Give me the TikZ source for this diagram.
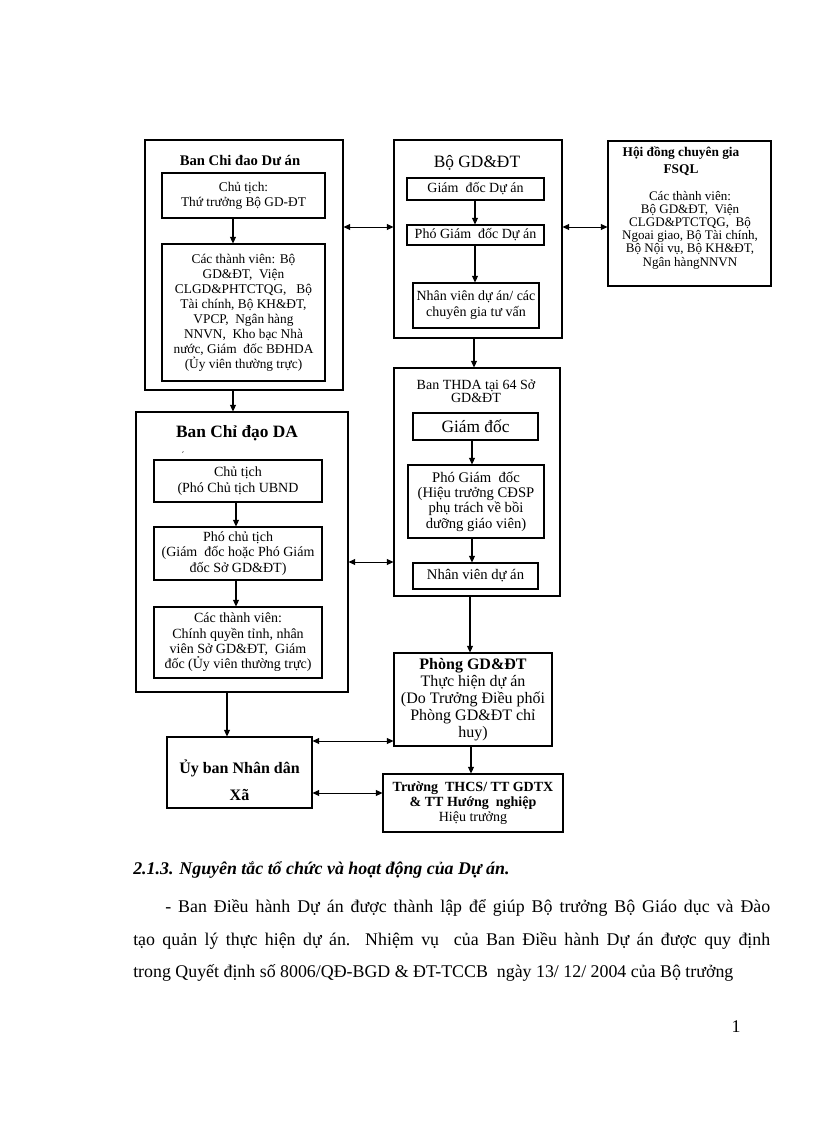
\documentclass[tikz,border=0pt]{standalone}
\usepackage{fontspec}
\setmainfont{Liberation Serif}
\usetikzlibrary{arrows.meta}
\newcommand\bx[7]{\node[#1, minimum width={(#5-#3)*0.75pt}, minimum height={(#6-#4)*0.75pt}] (#2) at ({(#3+#5)/2},{(#4+#6)/2}) {#7};}
\newcommand\fs[2]{\fontsize{#1}{#2}\selectfont}
\begin{document}
\begin{tikzpicture}[x=0.75pt,y=-0.75pt,
  box/.style={draw, line width=0.8pt, inner sep=0pt, align=center, font=\fs{10}{11.25}},
  outer/.style={draw, line width=0.8pt, inner sep=0pt},
  txt/.style={inner sep=0pt, align=center},
  body/.style={anchor=base west, inner sep=0pt, font=\fs{13.4}{15}},
  arr/.style={line width=0.8pt, -{Triangle[length=5pt,width=4.5pt]}},
  dbl/.style={line width=0.6pt, {Triangle[length=5pt,width=4.5pt]}-{Triangle[length=5pt,width=4.5pt]}},
]
\useasboundingbox[fill=white] (0,0) rectangle (816,1123);

% ---- Ban Chi dao Du an
\bx{outer}{A}{145}{140}{343}{390}{}
\node[txt, font=\bfseries\fs{11}{13}] (At) at (240,160) {Ban Chi đao Dư án};
\bx{box}{A1}{162}{173}{325}{218}{Chủ tịch:\\Thứ trưởng Bộ GD-ĐT}
\bx{box}{A2}{162}{244}{325}{381}{Các thành viên: Bộ\\GD\&ĐT,\ \ Viện\\CLGD\&PHTCTQG,\ \ \ Bộ\\Tài chính, Bộ KH\&ĐT,\\VPCP,\ \ Ngân hàng\\NNVN,\ \ Kho bạc Nhà\\nước, Giám\ \ đốc BĐHDA\\(Ủy viên thường trực)}

% ---- Bo GD&DT
\bx{outer}{B}{394}{140}{562}{338}{}
\node[txt, font=\fs{13}{15}] (Bt) at (477,163) {Bộ GD\&ĐT};
\bx{box, font=\fs{10.5}{12}}{B1}{407}{178}{544}{200}{Giám\ \ đốc Dự án}
\bx{box, font=\fs{10.5}{12}}{B2}{407}{225}{544}{245}{Phó Giám\ \ đốc Dự án}
\bx{box, font=\fs{10.5}{12}}{B3}{413}{283}{539}{328}{Nhân viên dự án/ các\\chuyên gia tư vấn}

% ---- Hoi dong chuyen gia
\bx{outer}{C}{608}{141}{771}{286}{}
\node[txt, font=\bfseries\fs{10}{12.5}] (Ct) at (681,161) {Hội đồng chuyên gia\\FSQL};
\node[txt, font=\fs{9.8}{9.9}] (Cb) at (690,230) {Các thành viên:\\Bộ GD\&ĐT,\ \ Viện\\CLGD\&PTCTQG,\ \ Bộ\\Ngoai giao, Bộ Tài chính,\\Bộ Nội vụ, Bộ KH\&ĐT,\\Ngân hàngNNVN};

% ---- Ban Chi dao DA
\bx{outer}{D}{136}{412}{348}{692}{}
\node[txt, font=\bfseries\fs{13}{15}] (Dt) at (237,433) {Ban Chỉ đạo DA};
\node[txt, font=\fs{7}{8}] (Dm) at (183,455) {´};
\bx{box, font=\fs{10.5}{11.5}}{D1}{154}{460}{322}{502}{Chủ tịch\\(Phó Chủ tịch UBND}
\bx{box, font=\fs{10.5}{11.5}}{D2}{154}{527}{322}{580}{Phó chủ tịch\\(Giám\ \ đốc hoặc Phó Giám\\đốc Sở GD\&ĐT)}
\bx{box, font=\fs{10.5}{11.5}}{D3}{154}{607}{322}{678}{Các thành viên:\\Chính quyền tỉnh, nhân\\viên Sở GD\&ĐT,\ \ Giám\\đốc (Ủy viên thường trực)}

% ---- Ban THDA
\bx{outer}{E}{394}{368}{560}{596}{}
\node[txt, font=\fs{10.5}{10}] (Et) at (476,391) {Ban THDA tại 64 Sở\\GD\&ĐT};
\bx{box, font=\fs{13}{15}}{E1}{413}{413}{538}{440}{Giám đốc}
\bx{box, font=\fs{11}{11.5}}{E2}{408}{465}{544}{538}{Phó Giám\ \ đốc\\(Hiệu trưởng CĐSP\\phụ trách về bồi\\dưỡng giáo viên)}
\bx{box, font=\fs{11}{13}}{E3}{413}{563}{538}{589}{Nhân viên dự án}

% ---- Phong GD&DT
\bx{box, font=\fs{12}{12.75}}{F}{394}{653}{552}{746}{\textbf{Phòng GD\&ĐT}\\Thực hiện dự án\\(Do Trưởng Điều phối\\Phòng GD\&ĐT chỉ\\huy)}

% ---- Uy ban Nhan dan Xa
\bx{outer}{G}{167}{737}{312}{808}{}
\node[txt, font=\bfseries\fs{12}{20}] (Gt) at (239.5,780.5) {Ủy ban Nhân dân\\Xã};

% ---- Truong THCS
\bx{box, font=\fs{10.5}{11.5}}{H}{383}{774}{563}{832}{\textbf{Trường\ \ THCS/ TT GDTX}\\\textbf{\& TT Hướng\ \ nghiệp}\\Hiệu trưởng}

% ---- helper coordinates
\coordinate (xa) at (233,0);
\coordinate (xb) at (475,0);
\coordinate (xbe) at (474,0);
\coordinate (xd) at (236,0);
\coordinate (xe) at (472,0);
\coordinate (xef) at (470,0);
\coordinate (xfh) at (471,0);
\coordinate (xdg) at (227,0);
\coordinate (yab) at (0,227);
\coordinate (yde) at (0,562);
\coordinate (ygf) at (0,741);
\coordinate (ygh) at (0,793);

% ---- vertical arrows
\draw[arr] (A1.south -| xa) -- (A2.north -| xa);
\draw[arr] (A.south -| xa) -- (D.north -| xa);
\draw[arr] (B1.south -| xb) -- (B2.north -| xb);
\draw[arr] (B2.south -| xb) -- (B3.north -| xb);
\draw[arr] (B.south -| xbe) -- (E.north -| xbe);
\draw[arr] (D1.south -| xd) -- (D2.north -| xd);
\draw[arr] (D2.south -| xd) -- (D3.north -| xd);
\draw[arr] (E1.south -| xe) -- (E2.north -| xe);
\draw[arr] (E2.south -| xe) -- (E3.north -| xe);
\draw[arr] (E.south -| xef) -- (F.north -| xef);
\draw[arr] (F.south -| xfh) -- (H.north -| xfh);
\draw[arr] (D.south -| xdg) -- (G.north -| xdg);

% ---- double arrows
\draw[dbl] (A.east |- yab) -- (B.west |- yab);
\draw[dbl] (B.east |- yab) -- (C.west |- yab);
\draw[dbl] (D.east |- yde) -- (E.west |- yde);
\draw[dbl] (G.east |- ygf) -- (F.west |- ygf);
\draw[dbl] (G.east |- ygh) -- (H.west |- ygh);

% ---- body text
\node[body, font=\bfseries\itshape\fs{13.4}{15}] (head) at (133,874) {2.1.3. Nguyên tắc tổ chức và hoạt động của Dự án.};
\node[body] (l1) at (165,912) {\makebox[453.75pt][s]{- Ban Điều hành Dự án được thành lập để giúp Bộ trưởng Bộ Giáo dục và Đào}};
\node[body] (l2) at (133,945) {\makebox[477.75pt][s]{tạo quản lý thực hiện dự án. Nhiệm vụ\ \ của Ban Điều hành Dự án được quy định}};
\node[body] (l3) at (133,977) {trong Quyết định số 8006/QĐ-BGD \& ĐT-TCCB\ \ ngày\ 13/ 12/ 2004 của Bộ trưởng};
\node[anchor=base, inner sep=0pt, font=\fs{13.4}{15}] (pg) at (736,1032) {1};
\end{tikzpicture}
\end{document}
